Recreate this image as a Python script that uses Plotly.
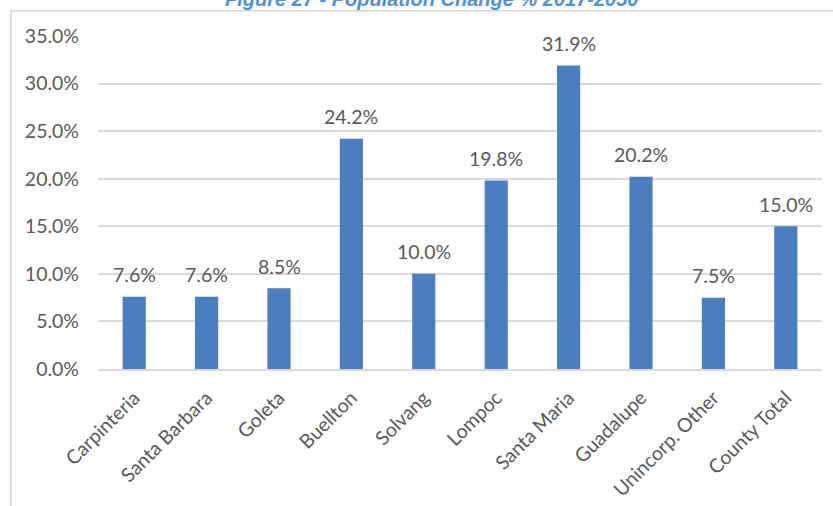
import plotly.graph_objects as go

# Projected population change by area, 2017-2050 (percent)
areas = ["Carpinteria", "Santa Barbara", "Goleta", "Buellton", "Solvang",
         "Lompoc", "Santa Maria", "Guadalupe", "Unincorp. Other", "County Total"]
change_pct = [7.6, 7.6, 8.5, 24.2, 10.0, 19.8, 31.9, 20.2, 7.5, 15.0]
y_ticks = [0, 5, 10, 15, 20, 25, 30, 35]
y_tick_text = [f"{v:.1f}%" for v in y_ticks]
title_text = "Figure 27 - Population Change % 2017-2050"

BAR = "#4a7ebf"
GREY_TEXT = "#595959"
GRID = "#d9d9d9"
FONT = "Lato, 'Open Sans', sans-serif"
FS = 19.5

fig = go.Figure()
fig.add_trace(go.Bar(
    x=areas,
    y=change_pct,
    marker=dict(color=BAR, line=dict(width=0)),
    hoverinfo="x+y",
))

# value labels above each bar
for a, v in zip(areas, change_pct):
    fig.add_annotation(
        x=a, y=v, xref="x", yref="y",
        text=f"{v:.1f}%", showarrow=False,
        yanchor="middle", yshift=22,
        font=dict(family=FONT, size=FS, color=GREY_TEXT),
    )

# caption above the chart frame
fig.add_annotation(
    x=0.46, y=1.112, xref="paper", yref="paper",
    text=f"<b><i>{title_text}</i></b>", showarrow=False,
    xanchor="center", yanchor="middle",
    font=dict(family="Liberation Sans, Arial, sans-serif", size=20, color="#4f8fd6"),
)

# chart frame (left and top edges visible)
fig.add_shape(
    type="rect", xref="paper", yref="paper",
    x0=-0.1203, x1=1.03, y0=-0.6, y1=1.0755,
    line=dict(color="#d4d4d4", width=1.5),
    fillcolor="rgba(0,0,0,0)", layer="below",
)

fig.update_layout(
    width=833, height=506,
    margin=dict(l=98, r=11, t=36, b=137, autoexpand=False),
    paper_bgcolor="white", plot_bgcolor="white",
    bargap=0.68,
    showlegend=False,
    font=dict(family=FONT, color=GREY_TEXT),
    xaxis=dict(
        tickangle=-45,
        tickfont=dict(family=FONT, size=FS, color=GREY_TEXT),
        showgrid=False,
        showline=True, linecolor=GRID, linewidth=1.5,
        ticks="",
        ticklabelstandoff=8,
        fixedrange=True,
    ),
    yaxis=dict(
        range=[0, 35],
        tickvals=y_ticks,
        ticktext=y_tick_text,
        tickfont=dict(family=FONT, size=FS, color=GREY_TEXT),
        showgrid=True, gridcolor=GRID, gridwidth=1.5,
        zeroline=False,
        showline=False,
        ticks="",
        ticklabelstandoff=18,
        fixedrange=True,
    ),
)

fig.write_html("out.html")
